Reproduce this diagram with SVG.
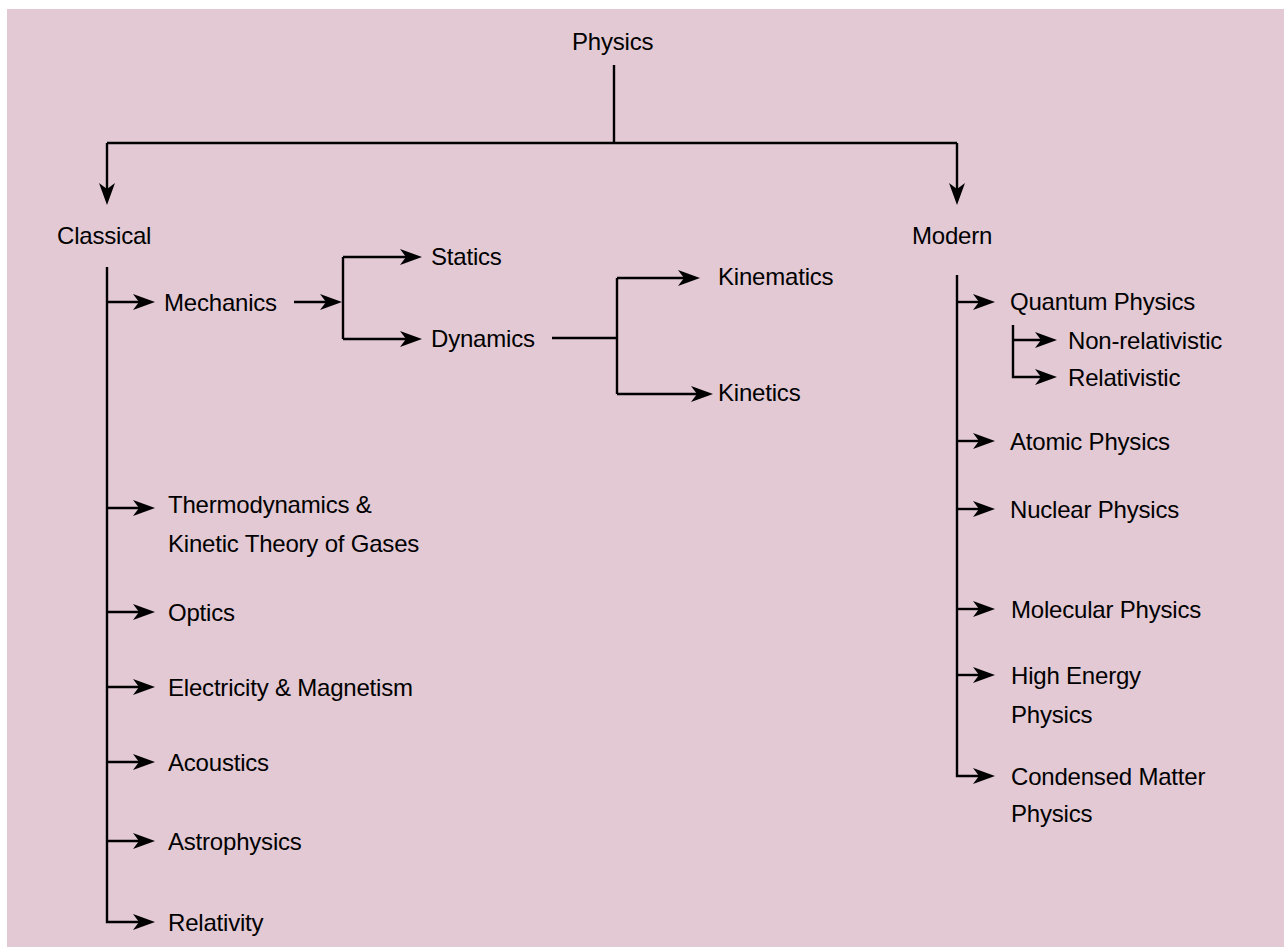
<svg xmlns="http://www.w3.org/2000/svg" width="1284" height="948" viewBox="0 0 1284 948">
<defs>
<style>
.t{font-family:"Liberation Sans",Arial,sans-serif;font-size:24px;fill:#000;letter-spacing:-0.2px}
.c{fill:none;stroke:#000;stroke-width:2.4}
</style>
<marker id="ah" markerUnits="userSpaceOnUse" markerWidth="24" markerHeight="18" viewBox="0 0 24 18" refX="14" refY="9" orient="auto">
<path d="M0,1 L22,9 L0,17 L6,9 Z" fill="#000"/>
</marker>
</defs>
<rect x="7" y="9" width="1277" height="938" fill="#E3C9D4"/>
<g id="connectors">
<path class="c" d="M614,65 V143"/>
<path class="c" d="M107,143 H957"/>
<path class="c" d="M107,143 V197" marker-end="url(#ah)"/>
<path class="c" d="M957,143 V197" marker-end="url(#ah)"/>
<path class="c" d="M107,267 V922 H147" marker-end="url(#ah)"/>
<path class="c" d="M107,302 H147" marker-end="url(#ah)"/>
<path class="c" d="M107,508 H147" marker-end="url(#ah)"/>
<path class="c" d="M107,612 H147" marker-end="url(#ah)"/>
<path class="c" d="M107,687 H147" marker-end="url(#ah)"/>
<path class="c" d="M107,762 H147" marker-end="url(#ah)"/>
<path class="c" d="M107,841 H147" marker-end="url(#ah)"/>
<path class="c" d="M294,302 H334" marker-end="url(#ah)"/>
<path class="c" d="M343,257 V339"/>
<path class="c" d="M343,257 H414" marker-end="url(#ah)"/>
<path class="c" d="M343,339 H414" marker-end="url(#ah)"/>
<path class="c" d="M552,338 H617"/>
<path class="c" d="M617,278 V394"/>
<path class="c" d="M617,278 H692" marker-end="url(#ah)"/>
<path class="c" d="M617,394 H705" marker-end="url(#ah)"/>
<path class="c" d="M957,275 V776 H987" marker-end="url(#ah)"/>
<path class="c" d="M957,302 H987" marker-end="url(#ah)"/>
<path class="c" d="M1013,325 V377 H1049" marker-end="url(#ah)"/>
<path class="c" d="M1013,340 H1049" marker-end="url(#ah)"/>
<path class="c" d="M957,441 H987" marker-end="url(#ah)"/>
<path class="c" d="M957,509 H987" marker-end="url(#ah)"/>
<path class="c" d="M957,609 H987" marker-end="url(#ah)"/>
<path class="c" d="M957,675 H987" marker-end="url(#ah)"/>
</g>
<g id="n-physics"><text class="t" x="572" y="50">Physics</text></g>
<g id="n-classical"><text class="t" x="57" y="244">Classical</text></g>
<g id="n-modern"><text class="t" x="912" y="244">Modern</text></g>
<g id="n-mechanics"><text class="t" x="164" y="311">Mechanics</text></g>
<g id="n-statics"><text class="t" x="431" y="265">Statics</text></g>
<g id="n-dynamics"><text class="t" x="431" y="347">Dynamics</text></g>
<g id="n-kinematics"><text class="t" x="718" y="285">Kinematics</text></g>
<g id="n-kinetics"><text class="t" x="718" y="401">Kinetics</text></g>
<g id="n-thermo"><text class="t" x="168" y="513">Thermodynamics &amp;</text><text class="t" x="168" y="552">Kinetic Theory of Gases</text></g>
<g id="n-optics"><text class="t" x="168" y="621">Optics</text></g>
<g id="n-em"><text class="t" x="168" y="696">Electricity &amp; Magnetism</text></g>
<g id="n-acoustics"><text class="t" x="168" y="771">Acoustics</text></g>
<g id="n-astro"><text class="t" x="168" y="850">Astrophysics</text></g>
<g id="n-relativity"><text class="t" x="168" y="931">Relativity</text></g>
<g id="n-quantum"><text class="t" x="1010" y="310">Quantum Physics</text></g>
<g id="n-nonrel"><text class="t" x="1068" y="349">Non-relativistic</text></g>
<g id="n-rel"><text class="t" x="1068" y="386">Relativistic</text></g>
<g id="n-atomic"><text class="t" x="1010" y="450">Atomic Physics</text></g>
<g id="n-nuclear"><text class="t" x="1010" y="518">Nuclear Physics</text></g>
<g id="n-molecular"><text class="t" x="1011" y="618">Molecular Physics</text></g>
<g id="n-high"><text class="t" x="1011" y="684">High Energy</text><text class="t" x="1011" y="723">Physics</text></g>
<g id="n-condensed"><text class="t" x="1011" y="785">Condensed Matter</text><text class="t" x="1011" y="822">Physics</text></g>
</svg>
